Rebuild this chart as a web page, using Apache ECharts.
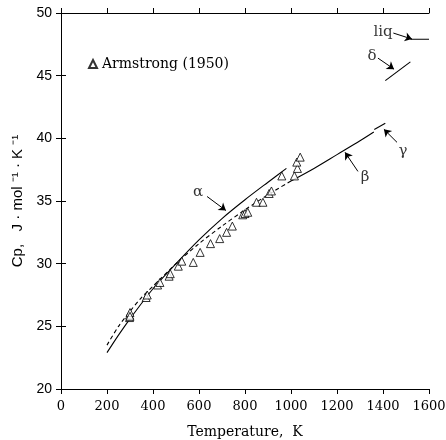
<!DOCTYPE html>
<html>
<head>
<meta charset="utf-8">
<script src="https://cdn.jsdelivr.net/npm/echarts@6/dist/echarts.min.js"></script>
<style>html,body{margin:0;padding:0;background:#fff}#c{width:446px;height:440px}</style>
</head>
<body>
<div id="c"></div>
<script>
// ---- data ----
const xTicks = [0, 200, 400, 600, 800, 1000, 1200, 1400, 1600];
const yTicks = [20, 25, 30, 35, 40, 45, 50];

const alphaT  = [200, 250, 300, 400, 500, 600, 700, 800, 900, 980];
const alphaCp = [22.9, 24.3, 25.6, 28.0, 30.0, 31.9, 33.6, 35.1, 36.5, 37.6];

const betaExtT  = [200, 250, 300, 350, 400, 500, 600, 700, 800, 900, 1000];
const betaExtCp = [23.5, 25.0, 26.2, 27.3, 28.2, 30.0, 31.6, 33.0, 34.3, 35.5, 36.6];

const betaT  = [1000, 1100, 1200, 1300, 1360];
const betaCp = [36.6, 37.6, 38.7, 39.8, 40.5];

const gammaT  = [1362, 1410];
const gammaCp = [40.7, 41.2];

const deltaT  = [1410, 1519];
const deltaCp = [44.6, 46.1];

const liqT  = [1519, 1600];
const liqCp = [47.9, 47.9];

const armT  = [298, 298, 300, 300, 370, 375, 420, 430, 470, 475, 510, 525, 575, 605, 650, 690, 720, 745, 790, 800, 812, 850, 878, 905, 915, 960, 1015, 1028, 1025, 1040];
const armCp = [25.7, 25.9, 26.1, 25.8, 27.3, 27.5, 28.3, 28.5, 29.0, 29.2, 29.8, 30.2, 30.1, 30.9, 31.6, 32.0, 32.5, 33.0, 33.9, 34.0, 34.1, 34.9, 34.9, 35.6, 35.8, 37.0, 37.0, 37.6, 38.1, 38.5];

const phaseNames = ['α', 'β', 'γ', 'δ', 'liq'];
const phaseLabelT  = [596, 1322, 1487, 1352, 1400];
const phaseLabelCp = [35.7, 36.9, 38.96, 46.56, 48.48];
const arrowFromT  = [635, 1291, 1461, 1378, 1445];
const arrowFromCp = [35.36, 37.36, 39.68, 46.4, 48.4];
const arrowToT  = [717, 1235, 1404, 1448, 1526];
const arrowToCp = [34.24, 38.88, 40.72, 45.52, 47.92];

// ---- build ----
const zip = (a, b) => a.map((v, i) => [v, b[i]]);
const SERIF = 'DejaVu Serif';
const SANS = 'Liberation Sans';

function lineSeries(name, xs, ys, dashed, smooth) {
  return {
    name, type: 'line', data: zip(xs, ys), symbol: 'none', smooth: smooth ? 0.3 : false,
    lineStyle: { color: '#000', width: 1.1, type: dashed ? [4, 3] : 'solid' },
    silent: true, z: 3
  };
}

const chart = echarts.init(document.getElementById('c'), null, { renderer: 'canvas' });
chart.setOption({
  animation: false,
  backgroundColor: '#fff',
  grid: { left: 61, right: 17, top: 13, bottom: 51, containLabel: false, outerBoundsMode: 'none' },
  legend: {
    left: 83, top: 52, itemWidth: 8, itemHeight: 8, itemGap: 5,
    data: [{ name: 'Armstrong (1950)', icon: 'triangle' }],
    textStyle: { fontFamily: SERIF, fontSize: 14, color: '#000' }
  },
  xAxis: [{
    type: 'value', min: 0, max: 1600, interval: 200,
    name: 'Temperature,  K', nameLocation: 'middle', nameGap: 36,
    nameTextStyle: { fontFamily: SERIF, fontSize: 14, color: '#000' },
    axisLine: { lineStyle: { color: '#000', width: 1 } },
    axisTick: { show: true, inside: false, length: 5, lineStyle: { color: '#000' } },
    axisLabel: { margin: 11, fontFamily: SERIF, fontSize: 13, color: '#000',
      formatter: v => xTicks.includes(v) ? String(v) : '' },
    splitLine: { show: false }
  }, {
    type: 'value', min: 0, max: 1600, interval: 200, position: 'top',
    axisLine: { lineStyle: { color: '#000', width: 1 } },
    axisTick: { show: true, inside: false, length: 5, lineStyle: { color: '#000' } },
    axisLabel: { show: false }, splitLine: { show: false }
  }],
  yAxis: [{
    type: 'value', min: 20, max: 50, interval: 5,
    name: 'Cp,   J · mol ⁻¹ · K ⁻¹', nameLocation: 'middle', nameGap: 34,
    nameTextStyle: { fontFamily: SANS, fontSize: 15, color: '#000' },
    axisLine: { show: true, lineStyle: { color: '#000', width: 1 } },
    axisTick: { show: true, inside: false, length: 5, lineStyle: { color: '#000' } },
    axisLabel: { margin: 9, fontFamily: SANS, fontSize: 14, color: '#000',
      formatter: v => yTicks.includes(v) ? String(v) : '' },
    splitLine: { show: false }
  }, {
    type: 'value', min: 20, max: 50, interval: 5, position: 'right',
    axisLine: { show: true, lineStyle: { color: '#000', width: 1 } },
    axisTick: { show: true, inside: false, length: 5, lineStyle: { color: '#000' } },
    axisLabel: { show: false }, splitLine: { show: false }
  }],
  series: [
    lineSeries('alpha', alphaT, alphaCp, false, true),
    lineSeries('betaExt', betaExtT, betaExtCp, true, true),
    lineSeries('beta', betaT, betaCp, false, true),
    lineSeries('gamma', gammaT, gammaCp, false, false),
    lineSeries('delta', deltaT, deltaCp, false, false),
    lineSeries('liq', liqT, liqCp, false, false),
    {
      name: 'Armstrong (1950)', type: 'scatter', symbol: 'triangle', symbolSize: 8,
      data: zip(armT, armCp),
      itemStyle: { color: '#fff', borderColor: '#000', borderWidth: 1 },
      z: 4
    },
    {
      name: 'labels', type: 'scatter', symbolSize: 0, silent: true,
      data: phaseNames.map((n, i) => ({ value: [phaseLabelT[i], phaseLabelCp[i]], name: n })),
      label: { show: true, position: 'inside', formatter: p => p.name,
        fontFamily: SERIF, fontSize: 15, color: '#000' },
      markLine: {
        silent: true, symbol: ['none', 'arrow'], symbolSize: 7,
        label: { show: false },
        lineStyle: { color: '#000', width: 1, type: 'solid' },
        data: arrowFromT.map((t, i) => [
          { coord: [t, arrowFromCp[i]] },
          { coord: [arrowToT[i], arrowToCp[i]] }
        ])
      },
      z: 5
    }
  ]
});
</script>
</body>
</html>
